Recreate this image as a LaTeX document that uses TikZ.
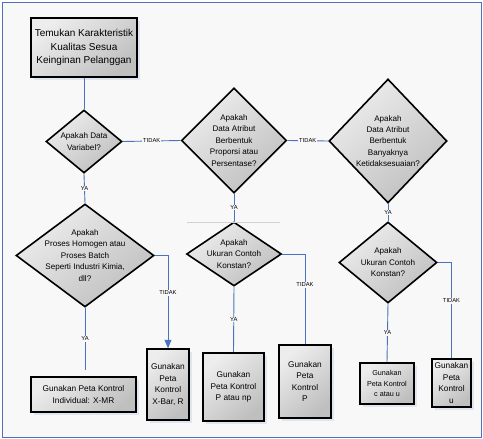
\documentclass[tikz,border=0pt]{standalone}
\usepackage{fontspec}
\setmainfont{Liberation Sans}
\usepackage{xcolor}
\usetikzlibrary{calc,
	positioning,
	shapes,
	shadows,
	arrows}

\definecolor{pagebg}{HTML}{F8F8F8}
\definecolor{flowblue}{HTML}{4A72C0}
\definecolor{shadeblue}{HTML}{E0E5F2}

\tikzset{
	box/.style={rectangle, draw=black, line width=1.6pt, align=center,
		top color=gray!14, bottom color=gray!50, shading angle=40,
		drop shadow={shadow xshift=3pt, shadow yshift=-3pt, fill=shadeblue, opacity=1},
		inner sep=1pt, font=\fontsize{8.3}{11.5}\selectfont},
	decision/.style={diamond, draw=black, line width=1.6pt, inner sep=0pt,
		top color=gray!14, bottom color=gray!50, shading angle=40},
	dtext/.style={align=center, inner sep=0pt, font=\fontsize{8.1}{11.4}\selectfont},
	link/.style={draw=flowblue, line width=0.9pt},
	answer/.style={fill=pagebg, inner sep=1pt, font=\fontsize{5.8}{7}\selectfont}
}

\begin{document}
\begin{tikzpicture}[x=1pt, y=-1pt]
		\useasboundingbox (0,0) rectangle (483,439);
		\draw [flowblue, fill=pagebg, line width=0.8pt] (2,2) rectangle (481,437);

		% start
		\node [box, minimum width=106pt, minimum height=59pt, font=\fontsize{10}{13.8}\selectfont]
		(start) at (84,47.5) {Temukan Karakteristik\\Kualitas Sesua\\Keinginan Pelanggan};

		% questions
		\node [decision, minimum width=76pt, minimum height=63pt] (qvar) at (84,141.5) {};
		\node [dtext] (qvar-t) at (qvar) {Apakah Data\\Variabel?};
		\node [decision, minimum width=105pt, minimum height=105pt] (qprop) at (234,140.5) {};
		\node [dtext] (qprop-t) at (qprop) {Apakah\\Data Atribut\\Berbentuk\\Proporsi atau\\Persentase?};
		\node [decision, minimum width=118pt, minimum height=124pt] (qcnt) at (388,141) {};
		\node [dtext] (qcnt-t) at (qcnt) {Apakah\\Data Atribut\\Berbentuk\\Banyaknya\\Ketidaksesuaian?};
		\node [decision, minimum width=138pt, minimum height=103pt] (qhom) at (85,255.5) {};
		\node [dtext] (qhom-t) at (qhom) {Apakah\\Proses Homogen atau\\Proses Batch\\Seperti Industri Kimia,\\dll?};
		\node [decision, minimum width=95pt, minimum height=64pt] (qsizep) at (234,254) {};
		\node [dtext] (qsizep-t) at (qsizep) {Apakah\\Ukuran Contoh\\Konstan?};
		\node [decision, minimum width=98pt, minimum height=81pt] (qsizec) at (388,262.5) {};
		\node [dtext] (qsizec-t) at (qsizec) {Apakah\\Ukuran Contoh\\Konstan?};

		% charts
		\node [box, minimum width=105pt, minimum height=35pt] (xmr) at (83.5,394.5) {Gunakan Peta Kontrol\\Individual: X-MR};
		\node [box, minimum width=42pt, minimum height=71pt] (xbar) at (168,384.5) {Gunakan\\Peta\\Kontrol\\X-Bar, R};
		\node [box, minimum width=61pt, minimum height=68pt] (pnp) at (233.5,387) {Gunakan\\Peta Kontrol\\P atau np};
		\node [box, minimum width=52pt, minimum height=73pt] (pch) at (305,381.5) {Gunakan\\Peta\\Kontrol\\P};
		\node [box, minimum width=54pt, minimum height=41pt, font=\fontsize{7.2}{10.5}\selectfont] (cu) at (387,383.5) {Gunakan\\Peta Kontrol\\c atau u};
		\node [box, minimum width=39pt, minimum height=48pt] (uch) at (451.5,383) {Gunakan\\Peta\\Kontrol\\u};

		\coordinate (xmr-top) at (85,370);
		\draw [gray!35, line width=0.6pt] (187,222) -- (280,222);

		% connectors
		\draw [link] (start) -- (qvar);
		\draw [link] (qvar.east) -- node [answer] {TIDAK} (qprop.west);
		\draw [link] (qprop.east) -- node [answer] {TIDAK} (qcnt.west);
		\draw [link] (qvar.south) -- node [answer] {YA} (qhom.north);
		\draw [link, -triangle 45] (qhom.east) -| node [answer, pos=0.7] {TIDAK} (xbar.north);
		\draw [link] (qhom.south) -- node [answer] {YA} (xmr-top);
		\draw [link] (qprop.south) -- node [answer] {YA} (qsizep.north);
		\draw [link] (qsizep.east) -| node [answer, pos=0.67] {TIDAK} (pch.north);
		\draw [link] (qsizep.south) -- node [answer] {YA} (pnp.north);
		\draw [link] (qcnt.south) -- node [answer] {YA} (qsizec.north);
		\draw [link] (qsizec.east) -| node [answer, pos=0.7] {TIDAK} (uch.north);
		\draw [link] (qsizec.south) -- node [answer] {YA} (cu.north);
	\end{tikzpicture}
\end{document}
